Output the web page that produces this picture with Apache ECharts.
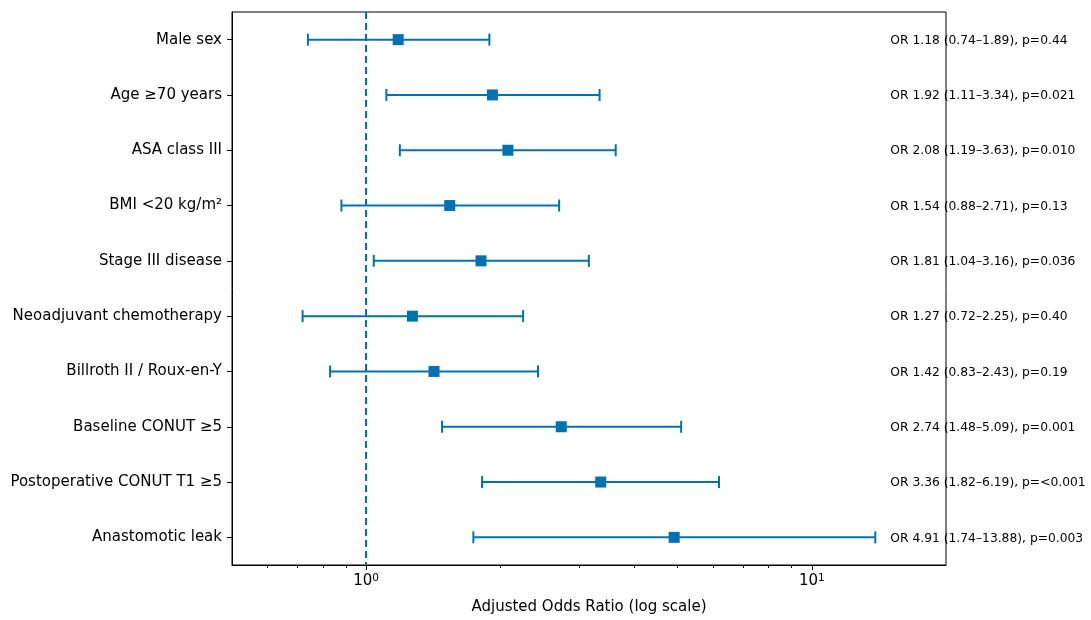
<!DOCTYPE html>
<html>
<head>
<meta charset="utf-8">
<script src="https://cdn.jsdelivr.net/npm/echarts@6/dist/echarts.min.js"></script>
<style>
  html, body { margin: 0; padding: 0; background: #fff; }
  #chart { width: 1091px; height: 620px; }
</style>
</head>
<body>
<div id="chart"></div>
<script>
// forest plot data, top to bottom
const factors = [
  'Male sex',
  'Age \u226570 years',
  'ASA class III',
  'BMI <20 kg/m\u00b2',
  'Stage III disease',
  'Neoadjuvant chemotherapy',
  'Billroth II / Roux-en-Y',
  'Baseline CONUT \u22655',
  'Postoperative CONUT T1 \u22655',
  'Anastomotic leak'
];
const oddsRatio = [1.18, 1.92, 2.08, 1.54, 1.81, 1.27, 1.42, 2.74, 3.36, 4.91];
const ciLow = [0.74, 1.11, 1.19, 0.88, 1.04, 0.72, 0.83, 1.48, 1.82, 1.74];
const ciHigh = [1.89, 3.34, 3.63, 2.71, 3.16, 2.25, 2.43, 5.09, 6.19, 13.88];
const pValues = ['0.44', '0.021', '0.010', '0.13', '0.036', '0.40', '0.19', '0.001', '<0.001', '0.003'];

const majorTicks = [1, 10];
const minorTicks = [0.6, 0.7, 0.8, 0.9, 2, 3, 4, 5, 6, 7, 8, 9];
const xMin = 0.5;
const xMax = 20;
const annotX = 15;

const BLUE = '#0072B2';
const FONT = '"DejaVu Sans", sans-serif';

const myChart = echarts.init(document.getElementById('chart'));

const rows = factors.map((f, i) => [oddsRatio[i], i, ciLow[i], ciHigh[i]]);

const option = {
  animation: false,
  grid: {
    left: 232, right: 145, top: 12, bottom: 55,
    show: true, borderColor: '#000', borderWidth: 1
  },
  xAxis: [{
    type: 'log',
    logBase: 10,
    min: xMin,
    max: xMax,
    name: 'Adjusted Odds Ratio (log scale)',
    nameLocation: 'middle',
    nameGap: 35,
    nameTextStyle: { fontFamily: FONT, fontSize: 15, color: '#000' },
    axisLine: { show: true, lineStyle: { color: '#000', width: 1 } },
    axisTick: { show: true, length: 5, customValues: majorTicks, lineStyle: { color: '#000' } },
    axisLabel: {
      customValues: majorTicks,
      fontFamily: FONT, fontSize: 15, color: '#000', margin: 8,
      formatter: v => '{b|10}{s|' + Math.round(Math.log10(v)) + '}',
      rich: {
        b: { fontFamily: FONT, fontSize: 15, color: '#000' },
        s: { fontFamily: FONT, fontSize: 10.5, color: '#000', verticalAlign: 'top', padding: [0, 0, 6, 0] }
      }
    },
    splitLine: { show: false }
  }, {
    type: 'log',
    logBase: 10,
    min: xMin,
    max: xMax,
    gridIndex: 0,
    position: 'bottom',
    axisLine: { show: false },
    axisTick: { show: true, length: 3, customValues: minorTicks, lineStyle: { color: '#000' } },
    axisLabel: { show: false },
    splitLine: { show: false }
  }],
  yAxis: {
    type: 'category',
    data: factors,
    inverse: true,
    axisLine: { show: true, lineStyle: { color: '#000' } },
    axisTick: { show: true, alignWithLabel: true, length: 5, lineStyle: { color: '#000' } },
    axisLabel: { fontFamily: FONT, fontSize: 15, color: '#000', margin: 10 },
    splitLine: { show: false }
  },
  series: [{
    type: 'custom',
    xAxisIndex: 0,
    clip: false,
    encode: { x: [0, 2, 3], y: 1 },
    data: rows,
    renderItem: function (params, api) {
      const i = api.value(1);
      const c = api.coord([api.value(0), i]);
      const lo = api.coord([api.value(2), i]);
      const hi = api.coord([api.value(3), i]);
      const tx = api.coord([annotX, i]);
      const cap = 6;
      const sz = 11;
      const ls = { stroke: BLUE, lineWidth: 2 };
      return {
        type: 'group',
        children: [
          { type: 'line', shape: { x1: lo[0], y1: c[1], x2: hi[0], y2: c[1] }, style: ls },
          { type: 'line', shape: { x1: lo[0], y1: c[1] - cap, x2: lo[0], y2: c[1] + cap }, style: ls },
          { type: 'line', shape: { x1: hi[0], y1: c[1] - cap, x2: hi[0], y2: c[1] + cap }, style: ls },
          { type: 'rect', shape: { x: c[0] - sz / 2, y: c[1] - sz / 2, width: sz, height: sz }, style: { fill: BLUE } },
          {
            type: 'text',
            x: tx[0], y: c[1] + 1,
            style: {
              text: 'OR ' + oddsRatio[i].toFixed(2) + ' (' + ciLow[i].toFixed(2) + '\u2013' + ciHigh[i].toFixed(2) + '), p=' + pValues[i],
              fontFamily: FONT, fontSize: 12.3, fill: '#000',
              align: 'left', verticalAlign: 'middle'
            }
          }
        ]
      };
    },
    markLine: {
      silent: true,
      symbol: 'none',
      label: { show: false },
      lineStyle: { color: BLUE, type: [7, 4], width: 2 },
      data: [{ xAxis: 1 }]
    }
  }]
};

myChart.setOption(option);
</script>
</body>
</html>
